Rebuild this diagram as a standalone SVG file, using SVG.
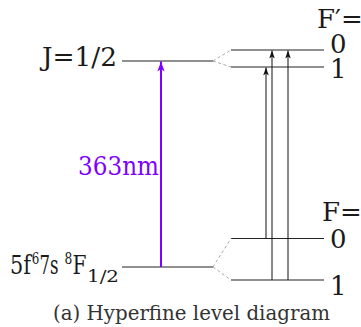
<svg xmlns="http://www.w3.org/2000/svg" width="361" height="327" viewBox="0 0 361 327">
<style>
  .lbl { font-size: 26px; }
  .lvl { stroke: #222; stroke-width: 1.2; fill: none; }
  .split { stroke: #aaa; stroke-width: 1; stroke-dasharray: 3 2.5; fill: none; }
  .tr { stroke: #111; stroke-width: 1; fill: none; marker-end: url(#ah); }
  .uv { stroke: #7f00ff; stroke-width: 2; fill: none; marker-end: url(#ahv); }
</style>
<defs>
  <marker id="ah" markerUnits="userSpaceOnUse" markerWidth="10" markerHeight="10" viewBox="-9 -4 10 8" refX="0" refY="0" orient="auto">
    <path d="M0,0 L-8,-2.8 L-6,0 L-8,2.8 Z" fill="#111"/>
  </marker>
  <marker id="ahv" markerUnits="userSpaceOnUse" markerWidth="12" markerHeight="10" viewBox="-11 -5 12 10" refX="0" refY="0" orient="auto">
    <path d="M0,0 L-10,-3.6 L-7.5,0 L-10,3.6 Z" fill="#7f00ff"/>
  </marker>
</defs>
<rect width="361" height="327" fill="#fff"/>

<g font-family="'DejaVu Serif', 'Liberation Serif', serif" fill="#1a1a1a">
<g id="excited-J">
  <line class="lvl" x1="122" y1="61" x2="213" y2="61"/>
  <text class="lbl" x="42" y="66" textLength="75" lengthAdjust="spacingAndGlyphs">J=1/2</text>
</g>

<g id="ground-J">
  <line class="lvl" x1="122" y1="267" x2="213" y2="267"/>
  <text class="lbl" y="274"><tspan x="10" textLength="21" lengthAdjust="spacingAndGlyphs">5f</tspan><tspan x="31.7" y="264" font-size="16" textLength="7.6" lengthAdjust="spacingAndGlyphs">6</tspan><tspan x="39.5" y="274" textLength="19" lengthAdjust="spacingAndGlyphs">7s</tspan><tspan x="64.5" y="264" font-size="16" textLength="7.8" lengthAdjust="spacingAndGlyphs">8</tspan><tspan x="72.5" y="274" textLength="14" lengthAdjust="spacingAndGlyphs">F</tspan><tspan x="87" y="282" font-size="17" textLength="32" lengthAdjust="spacingAndGlyphs">1/2</tspan></text>
</g>

<g id="Fp-header">
  <text class="lbl" x="317" y="28">F′=</text>
</g>
<g id="Fp0">
  <line class="lvl" x1="231" y1="50" x2="324" y2="50"/>
  <text class="lbl" x="330" y="53">0</text>
</g>
<g id="Fp1">
  <line class="lvl" x1="231" y1="67" x2="324" y2="67"/>
  <text class="lbl" x="330" y="78">1</text>
</g>

<g id="F-header">
  <text class="lbl" x="322" y="221">F=</text>
</g>
<g id="F0">
  <line class="lvl" x1="231" y1="238.5" x2="324" y2="238.5"/>
  <text class="lbl" x="330" y="248">0</text>
</g>
<g id="F1">
  <line class="lvl" x1="231" y1="280" x2="324" y2="280"/>
  <text class="lbl" x="330" y="295">1</text>
</g>

<g id="connectors">
  <path class="split" d="M213,61 L231,50 M213,61 L231,67"/>
  <path class="split" d="M213,267 L231,238.5 M213,267 L231,280"/>
  <line class="uv" x1="161" y1="267" x2="161" y2="61.5"/>
  <line class="tr" x1="266" y1="238.5" x2="266" y2="67.5"/>
  <line class="tr" x1="272" y1="280" x2="272" y2="50.5"/>
  <line class="tr" x1="288" y1="280" x2="288" y2="50.5"/>
  <text class="lbl" x="78" y="175" textLength="81" lengthAdjust="spacingAndGlyphs" fill="#7f00ff">363nm</text>
</g>

<g id="caption">
  <text x="53" y="320" font-size="20" textLength="277" lengthAdjust="spacingAndGlyphs" fill="#333">(a) Hyperfine level diagram</text>
</g>
</g>
</svg>
